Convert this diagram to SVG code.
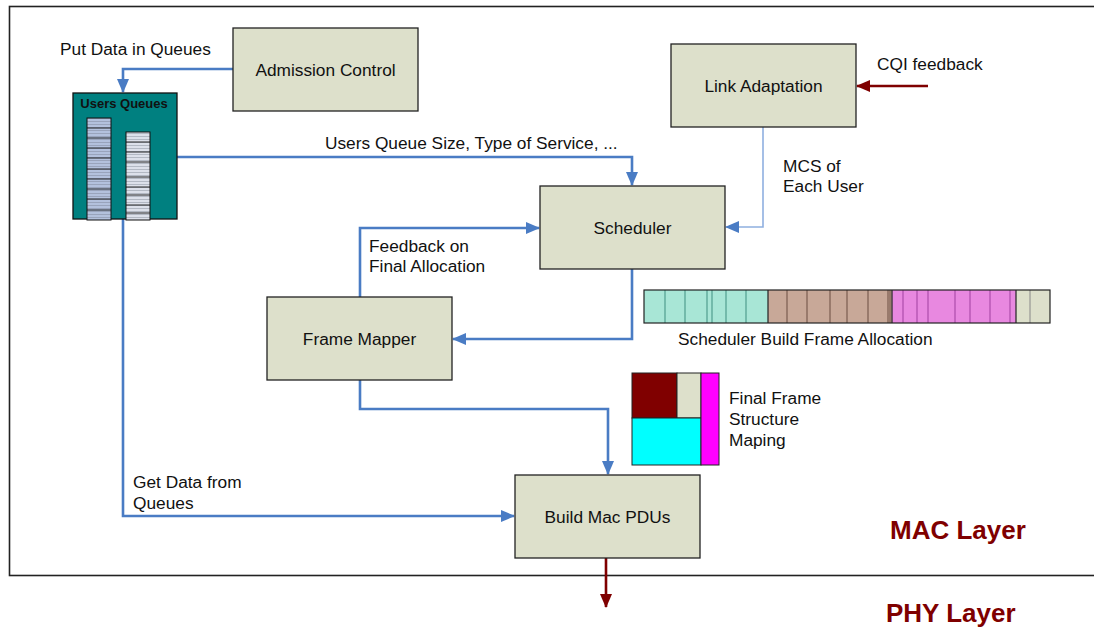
<svg xmlns="http://www.w3.org/2000/svg" width="1094" height="627" viewBox="0 0 1094 627">
<style>
text{font-family:"Liberation Sans",Arial,sans-serif;font-size:17.3px;fill:#111}
.box{fill:#dde0cb;stroke:#222;stroke-width:1.3}
.c{text-anchor:middle}
.conn{fill:none;stroke:#4a7cc4;stroke-width:2.6}
.thin{fill:none;stroke:#8fb0e0;stroke-width:1.6}
.red{fill:none;stroke:#7f0000;stroke-width:2.6}
.layer{font-weight:bold;font-size:26px;fill:#7f0000}
</style>
<defs>
<marker id="ab" markerWidth="14" markerHeight="12" refX="13" refY="6" orient="auto" markerUnits="userSpaceOnUse"><path d="M0,0 L14,6 L0,12 Z" fill="#4a7cc4"/></marker>
<marker id="ar" markerWidth="14" markerHeight="12" refX="13" refY="6" orient="auto" markerUnits="userSpaceOnUse"><path d="M0,0 L14,6 L0,12 Z" fill="#7f0000"/></marker>
<pattern id="qL" width="24" height="3" patternUnits="userSpaceOnUse"><rect width="24" height="3" fill="#b3c1dd"/><line x1="0" y1="1.5" x2="24" y2="1.5" stroke="#8e98ae" stroke-width="0.7"/></pattern>
<pattern id="qR" width="24" height="3" patternUnits="userSpaceOnUse"><rect width="24" height="3" fill="#dce0ea"/><line x1="0" y1="1.5" x2="24" y2="1.5" stroke="#a0a6b2" stroke-width="0.7"/></pattern>
</defs>
<rect x="9.5" y="6.5" width="1090" height="569" fill="none" stroke="#222" stroke-width="1.6"/>

<g id="connectors">
<polyline class="conn" points="233,69 123,69 123,92" marker-end="url(#ab)"/>
<polyline class="conn" points="177,157 632,157 632,185" marker-end="url(#ab)"/>
<polyline class="thin" points="763,127 763,227 726,227" marker-end="url(#ab)"/>
<line class="red" x1="928" y1="86" x2="857" y2="86" marker-end="url(#ar)"/>
<polyline class="conn" points="360,297 360,228 539,228" marker-end="url(#ab)"/>
<polyline class="conn" points="632,269 632,339 453,339" marker-end="url(#ab)"/>
<polyline class="conn" points="360,380 360,409 608,409 608,474" marker-end="url(#ab)"/>
<polyline class="conn" points="123,219 123,516 514,516" marker-end="url(#ab)"/>
<line class="red" x1="606" y1="558" x2="606" y2="607" marker-end="url(#ar)"/>
</g>

<g id="admission"><rect class="box" x="233" y="28" width="185" height="83"/><text class="c" x="325.5" y="75.5">Admission Control</text></g>

<g id="usersqueues">
<rect x="73" y="93" width="104" height="126" fill="#008080" stroke="#111" stroke-width="1.3"/>
<text class="c" x="124" y="107.5" style="font-size:13px;font-weight:bold">Users Queues</text>
<rect x="87" y="118" width="24" height="102" fill="url(#qL)" stroke="#111" stroke-width="1"/>
<path d="M87,128H111M87,138H111M87,148H111M87,158H111M87,169H111M87,179H111M87,189H111M87,199H111M87,210H111" stroke="#111" stroke-width="0.9"/>
<rect x="126" y="132" width="24" height="88" fill="url(#qR)" stroke="#111" stroke-width="1"/>
<path d="M126,142H150M126,152H150M126,162H150M126,177H150M126,187H150M126,195H150M126,205H150M126,213H150" stroke="#111" stroke-width="0.9"/>
</g>

<g id="linkadaptation"><rect class="box" x="671" y="44" width="185" height="83"/><text class="c" x="763.5" y="91.5">Link Adaptation</text></g>
<g id="scheduler"><rect class="box" x="540" y="186" width="185" height="83"/><text class="c" x="632.5" y="233.5">Scheduler</text></g>
<g id="framemapper"><rect class="box" x="267" y="297" width="185" height="83"/><text class="c" x="359.5" y="344.5">Frame Mapper</text></g>
<g id="buildmac"><rect class="box" x="515" y="475" width="185" height="83"/><text class="c" x="607.5" y="522.5">Build Mac PDUs</text></g>

<g id="labels">
<text x="60" y="55">Put Data in Queues</text>
<text x="325" y="149">Users Queue Size, Type of Service, ...</text>
<text x="877" y="70">CQI feedback</text>
<text x="783" y="172">MCS of</text>
<text x="783" y="192">Each User</text>
<text x="369" y="252">Feedback on</text>
<text x="369" y="272">Final Allocation</text>
<text x="678" y="345">Scheduler Build Frame Allocation</text>
<text x="729" y="404">Final Frame</text>
<text x="729" y="425">Structure</text>
<text x="729" y="446">Maping</text>
<text x="133" y="488">Get Data from</text>
<text x="133" y="509">Queues</text>
<text class="layer" x="890" y="539">MAC Layer</text>
<text class="layer" x="886" y="622">PHY Layer</text>
</g>

<g id="frameallocation">
<rect x="644" y="290" width="124" height="33" fill="#a8e6d6"/>
<rect x="768" y="290" width="124" height="33" fill="#c8a898"/>
<rect x="892" y="290" width="124" height="33" fill="#e888e0"/>
<rect x="1016" y="290" width="34" height="33" fill="#dde0cb"/>
<path d="M665,290V323M685,290V323M707,290V323M712,290V323M726,290V323M746,290V323" stroke="#3f8f80" stroke-width="1"/>
<path d="M787,290V323M807,290V323M830,290V323M847,290V323M868,290V323M888,290V323M890,290V323" stroke="#6a4c40" stroke-width="1"/>
<path d="M903,290V323M917,290V323M928,290V323M955,290V323M970,290V323M990,290V323M1010,290V323" stroke="#a040a0" stroke-width="1"/>
<path d="M1030,290V323" stroke="#888" stroke-width="1"/>
<path d="M768,290V323M892,290V323M1016,290V323" stroke="#222" stroke-width="1.2"/>
<rect x="644" y="290" width="406" height="33" fill="none" stroke="#222" stroke-width="1.2"/>
</g>

<g id="finalframe">
<rect x="632" y="373" width="45" height="45" fill="#800000" stroke="#222" stroke-width="1"/>
<rect x="677" y="373" width="24" height="45" fill="#dde0cb" stroke="#222" stroke-width="1"/>
<rect x="632" y="418" width="69" height="47" fill="#00ffff" stroke="#222" stroke-width="1"/>
<rect x="701" y="373" width="18" height="92" fill="#ff00ff" stroke="#222" stroke-width="1"/>
</g>
</svg>
